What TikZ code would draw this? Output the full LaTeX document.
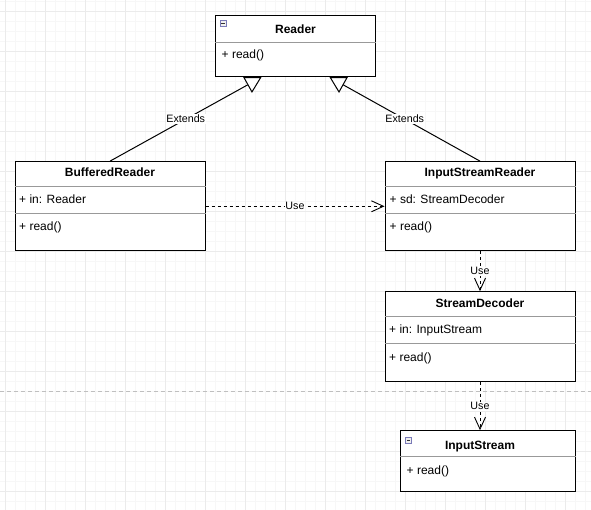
\documentclass[tikz,border=0pt]{standalone}
\usepackage{fontspec}
\setmainfont{Liberation Sans}
\usepackage{xcolor}
\usepackage{tikz}
\usetikzlibrary{arrows.meta,calc}

\begin{document}
\begin{tikzpicture}[x=1pt, y=-1pt,
    every node/.style={font=\fontsize{12}{14}\selectfont},
    classbox/.style={draw, fill=white, line width=1pt, inner sep=0pt,
                     minimum width=190pt, minimum height=90pt},
    classname/.style={font=\bfseries\fontsize{12}{14}\selectfont, anchor=base, inner sep=0pt},
    member/.style={anchor=base west, inner sep=0pt},
    divider/.style={draw=black!40, line width=0.8pt},
    minusbox/.style={draw=gray!70!blue!80, fill=black!6, line width=0.7pt,
                     minimum size=6pt, inner sep=0pt, anchor=north west,
                     path picture={\draw[black!80, line width=0.8pt]
                       ([xshift=1.2pt]path picture bounding box.west) --
                       ([xshift=-1.2pt]path picture bounding box.east);}},
    edgelabel/.style={font=\fontsize{10.7}{12}\selectfont, fill=white, inner sep=0.8pt},
    extends/.style={line width=1pt, -{Triangle[fill=white, length=16pt, width=18pt]}},
    use/.style={line width=0.9pt, dash pattern=on 3pt off 3pt,
                -{Straight Barb[length=12pt, width=11pt]}}]
  \useasboundingbox (0,0) rectangle (591,510);
  \fill[white] (0,0) rectangle (591,510);

  % background grid and page break
  \foreach \gx in {5,15,...,585} \draw[black!3, line width=0.8pt] (\gx,0) -- (\gx,510);
  \foreach \gy in {1,11,...,501} \draw[black!3, line width=0.8pt] (0,\gy) -- (591,\gy);
  \foreach \gx in {5,45,...,585} \draw[black!8, line width=0.8pt] (\gx,0) -- (\gx,510);
  \foreach \gy in {11,51,...,491} \draw[black!8, line width=0.8pt] (0,\gy) -- (591,\gy);
  \draw[black!25, line width=0.8pt, dash pattern=on 4pt off 3pt] (0,391) -- (591,391);

  \node[classbox, minimum width=160.4pt, minimum height=61.4pt] (Reader) at (295.5,46) {};
  \node[classbox, minimum height=89.3pt] (BufferedReader) at (110,206.3) {};
  \node[classbox, minimum height=89.3pt] (InputStreamReader) at (480,206.3) {};
  \node[classbox] (StreamDecoder) at (480,336.7) {};
  \node[classbox, minimum width=174.3pt, minimum height=61pt] (InputStream) at (487.85,461.2) {};

  \draw[divider] (Reader.west |- 0,42.3) -- (Reader.east |- 0,42.3);
  \draw[divider] (BufferedReader.west |- 0,186.7) -- (BufferedReader.east |- 0,186.7);
  \draw[divider] (BufferedReader.west |- 0,213.3) -- (BufferedReader.east |- 0,213.3);
  \draw[divider] (InputStreamReader.west |- 0,186.7) -- (InputStreamReader.east |- 0,186.7);
  \draw[divider] (InputStreamReader.west |- 0,213.3) -- (InputStreamReader.east |- 0,213.3);
  \draw[divider] (StreamDecoder.west |- 0,316) -- (StreamDecoder.east |- 0,316);
  \draw[divider] (StreamDecoder.west |- 0,343.7) -- (StreamDecoder.east |- 0,343.7);
  \draw[divider] (InputStream.west |- 0,456.7) -- (InputStream.east |- 0,456.7);

  \node[minusbox] (ReaderIcon) at ([shift={(5pt,-5pt)}]Reader.north west) {};
  \node[minusbox] (InputStreamIcon) at ([shift={(5pt,-6.5pt)}]InputStream.north west) {};

  \node[classname] (ReaderName) at (295.5,34) {Reader};
  \node[member] (ReaderRead) at (221.5,59) {+ read()};

  \node[classname] (BufferedReaderName) at (110,177) {BufferedReader};
  \node[member] (BufferedReaderIn) at (19,204) {+ in: Reader};
  \node[member] (BufferedReaderRead) at (19,231) {+ read()};

  \node[classname] (InputStreamReaderName) at (480,177) {InputStreamReader};
  \node[member] (InputStreamReaderSd) at (389.5,204) {+ sd: StreamDecoder};
  \node[member] (InputStreamReaderRead) at (389.5,231) {+ read()};

  \node[classname] (StreamDecoderName) at (480,307) {StreamDecoder};
  \node[member] (StreamDecoderIn) at (389,334) {+ in: InputStream};
  \node[member] (StreamDecoderRead) at (389,361) {+ read()};

  \node[classname] (InputStreamName) at (480,449.4) {InputStream};
  \node[member] (InputStreamRead) at (406.5,474.4) {+ read()};

  \draw[extends] (BufferedReader.north) -- ([xshift=-34pt]Reader.south)
      node[edgelabel, midway] (ExtendsLeft) {Extends};
  \draw[extends] (InputStreamReader.north) -- ([xshift=34pt]Reader.south)
      node[edgelabel, midway] (ExtendsRight) {Extends};
  \draw[use] (BufferedReader.east) -- (InputStreamReader.west)
      node[edgelabel, midway] (UseSd) {Use};
  \draw[use] (InputStreamReader.south) -- (StreamDecoder.north)
      node[edgelabel, midway] (UseDecoder) {Use};
  \draw[use] (StreamDecoder.south) -- (StreamDecoder.south |- InputStream.north)
      node[edgelabel, midway] (UseStream) {Use};
\end{tikzpicture}
\end{document}
